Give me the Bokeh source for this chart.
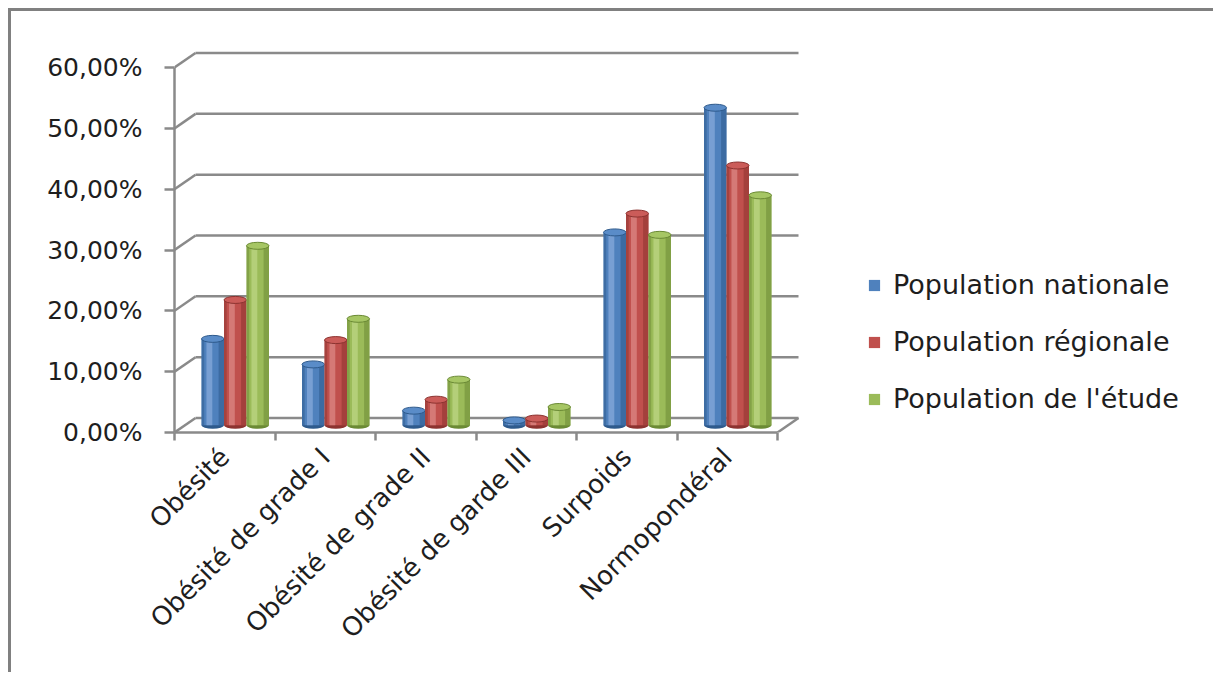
import math
from bokeh.plotting import figure
from bokeh.models import ColumnDataSource, Range1d, FixedTicker, Legend, LegendItem
from bokeh.embed import file_html
from bokeh.resources import INLINE

# ---------------- data ----------------
categories = ["Obésité", "Obésité de grade I", "Obésité de grade II",
              "Obésité de garde III", "Surpoids", "Normopondéral"]
series_names = ["Population nationale", "Population régionale", "Population de l'étude"]
population_nationale = [14.2, 10.0, 2.4, 0.8, 31.7, 52.2]
population_regionale = [20.6, 14.0, 4.2, 1.1, 34.8, 42.7]
population_etude = [29.5, 17.5, 7.5, 3.0, 31.3, 37.8]
y_ticks = [0, 10, 20, 30, 40, 50, 60]
y_tick_labels = ["0,00%", "10,00%", "20,00%", "30,00%", "40,00%", "50,00%", "60,00%"]

# ---------------- styling / layout ----------------
PAGE_W, PAGE_H = 1216, 675
OFF = 11                       # grey picture frame: 8px margin + 3px border
W, H = PAGE_W - OFF, PAGE_H - OFF
LEFT, BOTTOM_PX, TOP_PX = 174 - OFF, 432 - OFF, 40 - OFF
PX_CAT, PX_PCT = 100.5, 6.083
x_end = (W - LEFT) / PX_CAT
y_end = (BOTTOM_PX - TOP_PX) / PX_PCT
wall_dx, wall_dy = 21 / PX_CAT, 14.5 / PX_PCT
bar_dx, bar_dy = 10.5 / PX_CAT, 7.25 / PX_PCT
bar_w = 22.5 / PX_CAT
GRID = "#8a8a8a"
FONT = "DejaVu Sans"
TEXT = "#1e1e1e"

base_cols = ["#4F81BD", "#C0504D", "#9BBB59"]
dark_cols = ["#2E5A8C", "#8C3330", "#6B8A35"]
light_cols = ["#86AADB", "#DC8784", "#BCD684"]
top_cols = ["#5A8CC8", "#CB5C59", "#A6C664"]

p = figure(width=W, height=H, x_range=Range1d(0, x_end), y_range=Range1d(0, y_end),
           output_backend="svg", toolbar_location=None,
           min_border_left=LEFT, min_border_right=0, min_border_top=TOP_PX,
           min_border_bottom=H - BOTTOM_PX)
p.grid.visible = False
p.outline_line_color = None
p.background_fill_color = "white"
p.border_fill_color = "white"
p.styles = {"margin-left": "8px", "margin-top": "8px",
            "border-left": "3px solid #808080", "border-top": "3px solid #808080"}

# ---------------- 3D walls ----------------
gx0 = [wall_dx] * len(y_ticks)
gx1 = [6 + wall_dx] * len(y_ticks)
gy = [v + wall_dy for v in y_ticks]
p.segment(x0=gx0, y0=gy, x1=gx1, y1=gy, line_color=GRID, line_width=2.5)
p.segment(x0=[0] * len(y_ticks), y0=y_ticks, x1=gx0, y1=gy, line_color=GRID, line_width=2.5)
p.segment(x0=[6], y0=[0], x1=[6 + wall_dx], y1=[wall_dy], line_color=GRID, line_width=2.5)

# ---------------- bars (cylinders) ----------------
all_series = [population_nationale, population_regionale, population_etude]
legend_items = []
for s, vals in enumerate(all_series):
    cx = [i + 0.5 + bar_dx + (s - 1) * bar_w for i in range(len(categories))]
    src = ColumnDataSource(dict(
        x=cx,
        top=[v + bar_dy for v in vals],
        bottom=[bar_dy] * len(vals),
        hx=[c - 0.15 * bar_w for c in cx],
        rx=[c + 0.38 * bar_w for c in cx],
        lx=[c - 0.44 * bar_w for c in cx],
    ))
    p.ellipse(x="x", y="bottom", width=bar_w, height=7, height_units="screen",
              source=src, fill_color=dark_cols[s], line_color=None)
    body = p.vbar(x="x", top="top", bottom="bottom", width=bar_w, source=src,
                  fill_color=base_cols[s], line_color=None)
    p.vbar(x="hx", top="top", bottom="bottom", width=0.26 * bar_w, source=src,
           fill_color=light_cols[s], fill_alpha=0.75, line_color=None)
    p.vbar(x="rx", top="top", bottom="bottom", width=0.24 * bar_w, source=src,
           fill_color=dark_cols[s], fill_alpha=0.55, line_color=None)
    p.vbar(x="lx", top="top", bottom="bottom", width=0.12 * bar_w, source=src,
           fill_color=dark_cols[s], fill_alpha=0.5, line_color=None)
    p.ellipse(x="x", y="top", width=bar_w, height=7, height_units="screen",
              source=src, fill_color=top_cols[s], line_color=dark_cols[s], line_width=1)
    legend_items.append(LegendItem(label=series_names[s], renderers=[body]))

# ---------------- axes ----------------
yax = p.yaxis[0]
yax.ticker = FixedTicker(ticks=y_ticks)
yax.major_label_overrides = {t: lab for t, lab in zip(y_ticks, y_tick_labels)}
yax.bounds = (0, 60)
yax.axis_line_color = GRID
yax.axis_line_width = 2.5
yax.major_tick_line_color = GRID
yax.major_tick_line_width = 2.5
yax.major_tick_in = 0
yax.major_tick_out = 10
yax.minor_tick_line_color = None
yax.major_label_standoff = 22
yax.major_label_text_font = FONT
yax.major_label_text_font_size = "25px"
yax.major_label_text_color = TEXT

centers = [i + 0.5 for i in range(len(categories))]
bounds_ticks = [i for i in range(len(categories) + 1)]
xax = p.xaxis[0]
xax.ticker = FixedTicker(ticks=centers, minor_ticks=bounds_ticks)
xax.major_label_overrides = {c: lab for c, lab in zip(centers, categories)}
xax.bounds = (0, 6)
xax.axis_line_color = GRID
xax.axis_line_width = 2.5
xax.major_tick_line_color = None
xax.minor_tick_line_color = GRID
xax.minor_tick_line_width = 2.5
xax.minor_tick_in = 0
xax.minor_tick_out = 8
xax.major_label_orientation = math.pi / 4
xax.major_label_standoff = 12
xax.major_label_text_font = FONT
xax.major_label_text_font_size = "26px"
xax.major_label_text_color = TEXT

# ---------------- legend ----------------
legend = Legend(items=legend_items, location=(693, 18), orientation="vertical",
                border_line_color=None, background_fill_alpha=0, padding=0, margin=0,
                spacing=26, label_height=30, glyph_width=14, glyph_height=14,
                label_standoff=12, label_text_font=FONT, label_text_font_size="27px",
                label_text_color=TEXT)
p.add_layout(legend)

open("out.html", "w").write(file_html(p, INLINE))
